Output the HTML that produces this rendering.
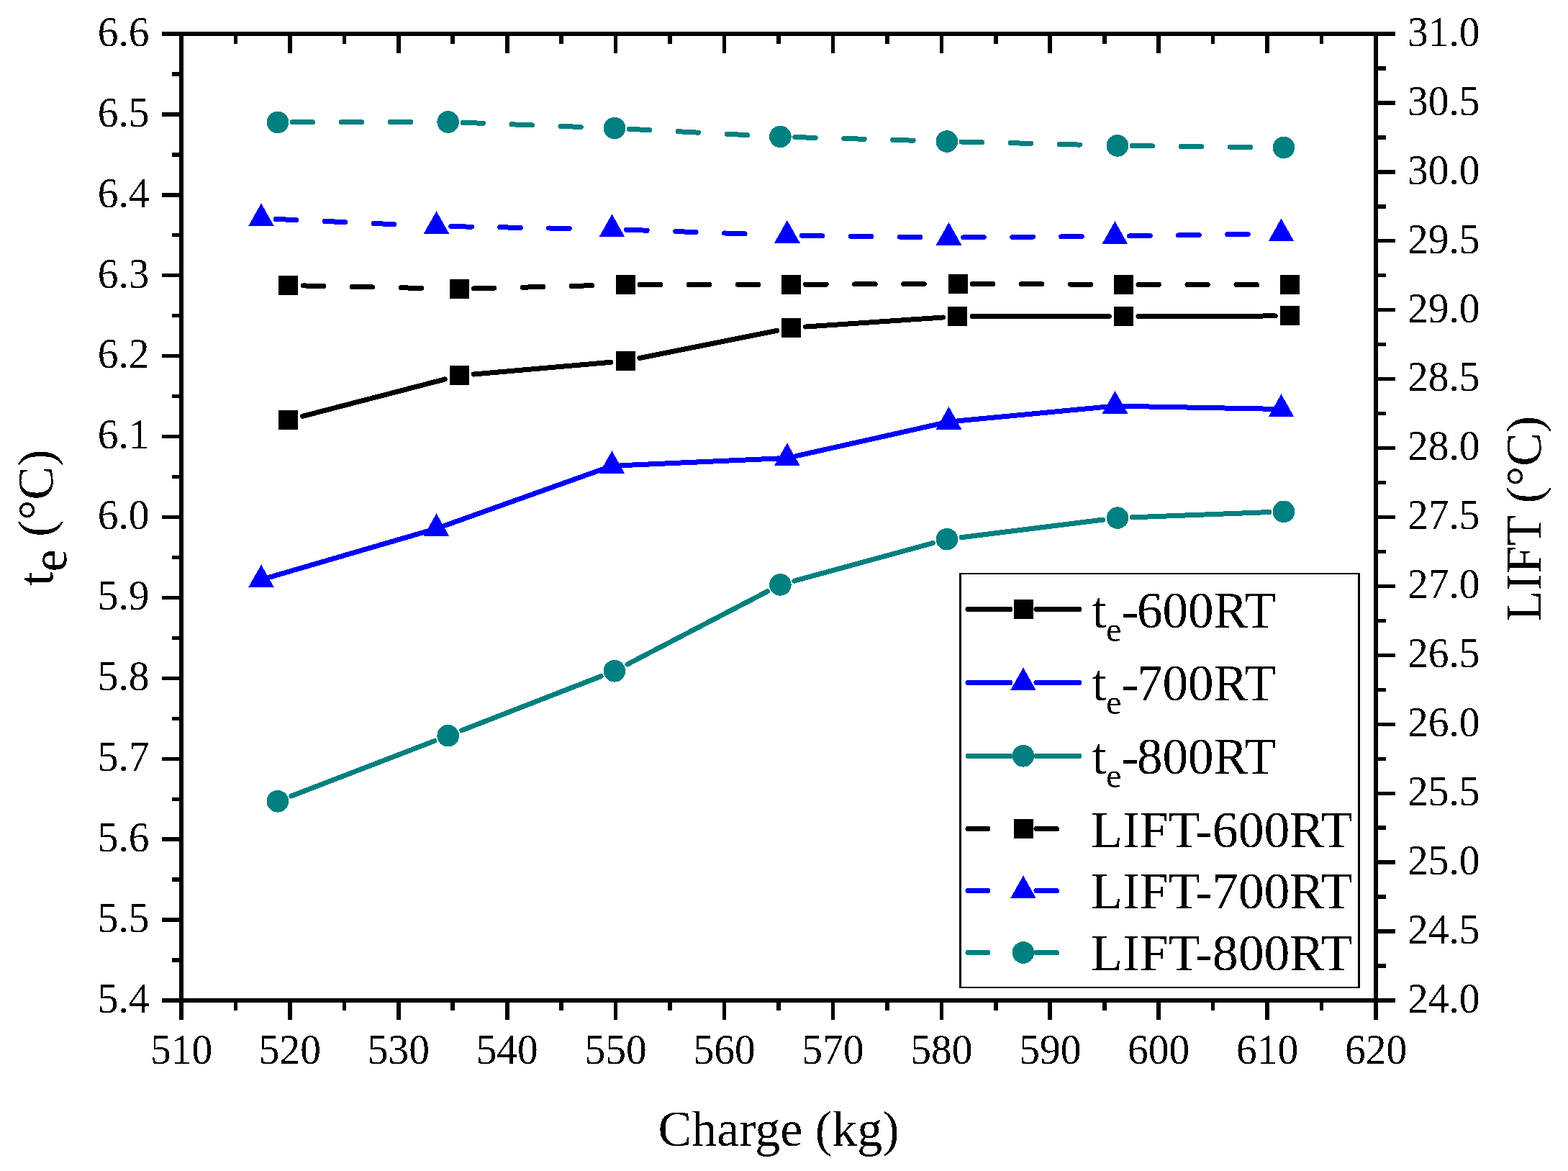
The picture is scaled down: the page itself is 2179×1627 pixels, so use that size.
<!DOCTYPE html>
<html><head><meta charset="utf-8"><title>Charge vs te and LIFT</title>
<style>html,body{margin:0;padding:0;background:#fff;overflow:hidden}svg{display:block}</style></head>
<body><svg width="2179" height="1627" viewBox="0 0 2179 1627">
<defs><filter id="bin" x="0" y="0" width="2179" height="1627" filterUnits="userSpaceOnUse" color-interpolation-filters="sRGB"><feComponentTransfer><feFuncA type="discrete" tableValues="0 1"/></feComponentTransfer></filter></defs>
<rect width="2179" height="1627" fill="#fff"/>
<g filter="url(#bin)">
<rect x="249.00" y="44.00" width="6.00" height="1349.00" fill="#000000"/>
<rect x="1909.00" y="44.00" width="6.00" height="1349.00" fill="#000000"/>
<rect x="249.00" y="44.00" width="1666.00" height="6.00" fill="#000000"/>
<rect x="249.00" y="1387.00" width="1666.00" height="6.00" fill="#000000"/>
<rect x="225.00" y="1387.30" width="24.00" height="5.40" fill="#000000"/>
<rect x="225.00" y="1275.38" width="24.00" height="5.40" fill="#000000"/>
<rect x="225.00" y="1163.47" width="24.00" height="5.40" fill="#000000"/>
<rect x="225.00" y="1051.55" width="24.00" height="5.40" fill="#000000"/>
<rect x="225.00" y="939.63" width="24.00" height="5.40" fill="#000000"/>
<rect x="225.00" y="827.72" width="24.00" height="5.40" fill="#000000"/>
<rect x="225.00" y="715.80" width="24.00" height="5.40" fill="#000000"/>
<rect x="225.00" y="603.88" width="24.00" height="5.40" fill="#000000"/>
<rect x="225.00" y="491.97" width="24.00" height="5.40" fill="#000000"/>
<rect x="225.00" y="380.05" width="24.00" height="5.40" fill="#000000"/>
<rect x="225.00" y="268.13" width="24.00" height="5.40" fill="#000000"/>
<rect x="225.00" y="156.22" width="24.00" height="5.40" fill="#000000"/>
<rect x="225.00" y="44.30" width="24.00" height="5.40" fill="#000000"/>
<rect x="239.00" y="1331.34" width="10.00" height="5.40" fill="#000000"/>
<rect x="239.00" y="1219.43" width="10.00" height="5.40" fill="#000000"/>
<rect x="239.00" y="1107.51" width="10.00" height="5.40" fill="#000000"/>
<rect x="239.00" y="995.59" width="10.00" height="5.40" fill="#000000"/>
<rect x="239.00" y="883.67" width="10.00" height="5.40" fill="#000000"/>
<rect x="239.00" y="771.76" width="10.00" height="5.40" fill="#000000"/>
<rect x="239.00" y="659.84" width="10.00" height="5.40" fill="#000000"/>
<rect x="239.00" y="547.92" width="10.00" height="5.40" fill="#000000"/>
<rect x="239.00" y="436.01" width="10.00" height="5.40" fill="#000000"/>
<rect x="239.00" y="324.09" width="10.00" height="5.40" fill="#000000"/>
<rect x="239.00" y="212.18" width="10.00" height="5.40" fill="#000000"/>
<rect x="239.00" y="100.26" width="10.00" height="5.40" fill="#000000"/>
<rect x="1915.00" y="1387.30" width="24.00" height="5.40" fill="#000000"/>
<rect x="1915.00" y="1291.37" width="24.00" height="5.40" fill="#000000"/>
<rect x="1915.00" y="1195.44" width="24.00" height="5.40" fill="#000000"/>
<rect x="1915.00" y="1099.51" width="24.00" height="5.40" fill="#000000"/>
<rect x="1915.00" y="1003.59" width="24.00" height="5.40" fill="#000000"/>
<rect x="1915.00" y="907.66" width="24.00" height="5.40" fill="#000000"/>
<rect x="1915.00" y="811.73" width="24.00" height="5.40" fill="#000000"/>
<rect x="1915.00" y="715.80" width="24.00" height="5.40" fill="#000000"/>
<rect x="1915.00" y="619.87" width="24.00" height="5.40" fill="#000000"/>
<rect x="1915.00" y="523.94" width="24.00" height="5.40" fill="#000000"/>
<rect x="1915.00" y="428.01" width="24.00" height="5.40" fill="#000000"/>
<rect x="1915.00" y="332.09" width="24.00" height="5.40" fill="#000000"/>
<rect x="1915.00" y="236.16" width="24.00" height="5.40" fill="#000000"/>
<rect x="1915.00" y="140.23" width="24.00" height="5.40" fill="#000000"/>
<rect x="1915.00" y="44.30" width="24.00" height="5.40" fill="#000000"/>
<rect x="1915.00" y="1339.34" width="11.00" height="5.40" fill="#000000"/>
<rect x="1915.00" y="1243.41" width="11.00" height="5.40" fill="#000000"/>
<rect x="1915.00" y="1147.48" width="11.00" height="5.40" fill="#000000"/>
<rect x="1915.00" y="1051.55" width="11.00" height="5.40" fill="#000000"/>
<rect x="1915.00" y="955.62" width="11.00" height="5.40" fill="#000000"/>
<rect x="1915.00" y="859.69" width="11.00" height="5.40" fill="#000000"/>
<rect x="1915.00" y="763.76" width="11.00" height="5.40" fill="#000000"/>
<rect x="1915.00" y="667.84" width="11.00" height="5.40" fill="#000000"/>
<rect x="1915.00" y="571.91" width="11.00" height="5.40" fill="#000000"/>
<rect x="1915.00" y="475.98" width="11.00" height="5.40" fill="#000000"/>
<rect x="1915.00" y="380.05" width="11.00" height="5.40" fill="#000000"/>
<rect x="1915.00" y="284.12" width="11.00" height="5.40" fill="#000000"/>
<rect x="1915.00" y="188.19" width="11.00" height="5.40" fill="#000000"/>
<rect x="1915.00" y="92.26" width="11.00" height="5.40" fill="#000000"/>
<rect x="249.20" y="1393.00" width="5.60" height="24.00" fill="#000000"/>
<rect x="249.20" y="50.00" width="5.60" height="24.00" fill="#000000"/>
<rect x="400.11" y="1393.00" width="5.60" height="24.00" fill="#000000"/>
<rect x="400.11" y="50.00" width="5.60" height="24.00" fill="#000000"/>
<rect x="551.02" y="1393.00" width="5.60" height="24.00" fill="#000000"/>
<rect x="551.02" y="50.00" width="5.60" height="24.00" fill="#000000"/>
<rect x="701.93" y="1393.00" width="5.60" height="24.00" fill="#000000"/>
<rect x="701.93" y="50.00" width="5.60" height="24.00" fill="#000000"/>
<rect x="852.84" y="1393.00" width="5.60" height="24.00" fill="#000000"/>
<rect x="852.84" y="50.00" width="5.60" height="24.00" fill="#000000"/>
<rect x="1003.75" y="1393.00" width="5.60" height="24.00" fill="#000000"/>
<rect x="1003.75" y="50.00" width="5.60" height="24.00" fill="#000000"/>
<rect x="1154.65" y="1393.00" width="5.60" height="24.00" fill="#000000"/>
<rect x="1154.65" y="50.00" width="5.60" height="24.00" fill="#000000"/>
<rect x="1305.56" y="1393.00" width="5.60" height="24.00" fill="#000000"/>
<rect x="1305.56" y="50.00" width="5.60" height="24.00" fill="#000000"/>
<rect x="1456.47" y="1393.00" width="5.60" height="24.00" fill="#000000"/>
<rect x="1456.47" y="50.00" width="5.60" height="24.00" fill="#000000"/>
<rect x="1607.38" y="1393.00" width="5.60" height="24.00" fill="#000000"/>
<rect x="1607.38" y="50.00" width="5.60" height="24.00" fill="#000000"/>
<rect x="1758.29" y="1393.00" width="5.60" height="24.00" fill="#000000"/>
<rect x="1758.29" y="50.00" width="5.60" height="24.00" fill="#000000"/>
<rect x="1909.20" y="1393.00" width="5.60" height="24.00" fill="#000000"/>
<rect x="1909.20" y="50.00" width="5.60" height="24.00" fill="#000000"/>
<rect x="324.65" y="1393.00" width="5.60" height="11.00" fill="#000000"/>
<rect x="324.65" y="50.00" width="5.60" height="11.00" fill="#000000"/>
<rect x="475.56" y="1393.00" width="5.60" height="11.00" fill="#000000"/>
<rect x="475.56" y="50.00" width="5.60" height="11.00" fill="#000000"/>
<rect x="626.47" y="1393.00" width="5.60" height="11.00" fill="#000000"/>
<rect x="626.47" y="50.00" width="5.60" height="11.00" fill="#000000"/>
<rect x="777.38" y="1393.00" width="5.60" height="11.00" fill="#000000"/>
<rect x="777.38" y="50.00" width="5.60" height="11.00" fill="#000000"/>
<rect x="928.29" y="1393.00" width="5.60" height="11.00" fill="#000000"/>
<rect x="928.29" y="50.00" width="5.60" height="11.00" fill="#000000"/>
<rect x="1079.20" y="1393.00" width="5.60" height="11.00" fill="#000000"/>
<rect x="1079.20" y="50.00" width="5.60" height="11.00" fill="#000000"/>
<rect x="1230.11" y="1393.00" width="5.60" height="11.00" fill="#000000"/>
<rect x="1230.11" y="50.00" width="5.60" height="11.00" fill="#000000"/>
<rect x="1381.02" y="1393.00" width="5.60" height="11.00" fill="#000000"/>
<rect x="1381.02" y="50.00" width="5.60" height="11.00" fill="#000000"/>
<rect x="1531.93" y="1393.00" width="5.60" height="11.00" fill="#000000"/>
<rect x="1531.93" y="50.00" width="5.60" height="11.00" fill="#000000"/>
<rect x="1682.84" y="1393.00" width="5.60" height="11.00" fill="#000000"/>
<rect x="1682.84" y="50.00" width="5.60" height="11.00" fill="#000000"/>
<rect x="1833.75" y="1393.00" width="5.60" height="11.00" fill="#000000"/>
<rect x="1833.75" y="50.00" width="5.60" height="11.00" fill="#000000"/>
<g font-family="'Liberation Serif','Times New Roman',serif" font-size="57.5" fill="#000">
<text transform="translate(207.5,1406.80) scale(1,1.034)" text-anchor="end">5.4</text>
<text transform="translate(207.5,1294.88) scale(1,1.034)" text-anchor="end">5.5</text>
<text transform="translate(207.5,1182.97) scale(1,1.034)" text-anchor="end">5.6</text>
<text transform="translate(207.5,1071.05) scale(1,1.034)" text-anchor="end">5.7</text>
<text transform="translate(207.5,959.13) scale(1,1.034)" text-anchor="end">5.8</text>
<text transform="translate(207.5,847.22) scale(1,1.034)" text-anchor="end">5.9</text>
<text transform="translate(207.5,735.30) scale(1,1.034)" text-anchor="end">6.0</text>
<text transform="translate(207.5,623.38) scale(1,1.034)" text-anchor="end">6.1</text>
<text transform="translate(207.5,511.47) scale(1,1.034)" text-anchor="end">6.2</text>
<text transform="translate(207.5,399.55) scale(1,1.034)" text-anchor="end">6.3</text>
<text transform="translate(207.5,287.63) scale(1,1.034)" text-anchor="end">6.4</text>
<text transform="translate(207.5,175.72) scale(1,1.034)" text-anchor="end">6.5</text>
<text transform="translate(207.5,63.80) scale(1,1.034)" text-anchor="end">6.6</text>
<text transform="translate(1956,1406.80) scale(1,1.034)">24.0</text>
<text transform="translate(1956,1310.87) scale(1,1.034)">24.5</text>
<text transform="translate(1956,1214.94) scale(1,1.034)">25.0</text>
<text transform="translate(1956,1119.01) scale(1,1.034)">25.5</text>
<text transform="translate(1956,1023.09) scale(1,1.034)">26.0</text>
<text transform="translate(1956,927.16) scale(1,1.034)">26.5</text>
<text transform="translate(1956,831.23) scale(1,1.034)">27.0</text>
<text transform="translate(1956,735.30) scale(1,1.034)">27.5</text>
<text transform="translate(1956,639.37) scale(1,1.034)">28.0</text>
<text transform="translate(1956,543.44) scale(1,1.034)">28.5</text>
<text transform="translate(1956,447.51) scale(1,1.034)">29.0</text>
<text transform="translate(1956,351.59) scale(1,1.034)">29.5</text>
<text transform="translate(1956,255.66) scale(1,1.034)">30.0</text>
<text transform="translate(1956,159.73) scale(1,1.034)">30.5</text>
<text transform="translate(1956,63.80) scale(1,1.034)">31.0</text>
<text transform="translate(252.00,1477.8) scale(1,1.034)" text-anchor="middle">510</text>
<text transform="translate(402.91,1477.8) scale(1,1.034)" text-anchor="middle">520</text>
<text transform="translate(553.82,1477.8) scale(1,1.034)" text-anchor="middle">530</text>
<text transform="translate(704.73,1477.8) scale(1,1.034)" text-anchor="middle">540</text>
<text transform="translate(855.64,1477.8) scale(1,1.034)" text-anchor="middle">550</text>
<text transform="translate(1006.55,1477.8) scale(1,1.034)" text-anchor="middle">560</text>
<text transform="translate(1157.45,1477.8) scale(1,1.034)" text-anchor="middle">570</text>
<text transform="translate(1308.36,1477.8) scale(1,1.034)" text-anchor="middle">580</text>
<text transform="translate(1459.27,1477.8) scale(1,1.034)" text-anchor="middle">590</text>
<text transform="translate(1610.18,1477.8) scale(1,1.034)" text-anchor="middle">600</text>
<text transform="translate(1761.09,1477.8) scale(1,1.034)" text-anchor="middle">610</text>
<text transform="translate(1912.00,1477.8) scale(1,1.034)" text-anchor="middle">620</text>
</g>
<text x="1082" y="1592.4" text-anchor="middle" font-family="'Liberation Serif','Times New Roman',serif" font-size="70">Charge (kg)</text>
<text transform="translate(2141.3,720.5) rotate(-90)" x="0" y="0" text-anchor="middle" font-family="'Liberation Serif','Times New Roman',serif" font-size="70">LIFT (°C)</text>
<text transform="translate(73.3,813.8) rotate(-90)" x="0" y="0" font-family="'Liberation Serif','Times New Roman',serif" font-size="70">t<tspan dy="19">e</tspan><tspan dy="-19"> (°C)</tspan></text>
<g shape-rendering="crispEdges">
<line x1="420.55" y1="578.30" x2="618.35" y2="526.90" stroke="#000000" stroke-width="7.0" stroke-linecap="round"/>
<line x1="658.22" y1="520.02" x2="848.78" y2="503.28" stroke="#000000" stroke-width="7.0" stroke-linecap="round"/>
<line x1="888.91" y1="497.52" x2="1079.59" y2="459.38" stroke="#000000" stroke-width="7.0" stroke-linecap="round"/>
<line x1="1119.75" y1="454.02" x2="1310.65" y2="440.98" stroke="#000000" stroke-width="7.0" stroke-linecap="round"/>
<line x1="1351.20" y1="439.60" x2="1541.30" y2="439.60" stroke="#000000" stroke-width="7.0" stroke-linecap="round"/>
<line x1="1581.90" y1="439.54" x2="1772.10" y2="438.96" stroke="#000000" stroke-width="7.0" stroke-linecap="round"/>
<line x1="421.20" y1="396.93" x2="617.70" y2="401.07" stroke="#000000" stroke-width="7.0" stroke-linecap="round" stroke-dasharray="28.5 39.5"/>
<line x1="658.29" y1="400.97" x2="848.71" y2="396.03" stroke="#000000" stroke-width="7.0" stroke-linecap="round" stroke-dasharray="28.5 39.5"/>
<line x1="889.30" y1="395.48" x2="1079.10" y2="395.32" stroke="#000000" stroke-width="7.0" stroke-linecap="round" stroke-dasharray="28.5 39.5"/>
<line x1="1119.70" y1="395.22" x2="1310.70" y2="394.48" stroke="#000000" stroke-width="7.0" stroke-linecap="round" stroke-dasharray="28.5 39.5"/>
<line x1="1351.30" y1="394.48" x2="1541.30" y2="395.22" stroke="#000000" stroke-width="7.0" stroke-linecap="round" stroke-dasharray="28.5 39.5"/>
<line x1="1581.90" y1="395.34" x2="1772.10" y2="395.76" stroke="#000000" stroke-width="7.0" stroke-linecap="round" stroke-dasharray="28.5 39.5"/>
<line x1="374.52" y1="802.04" x2="594.98" y2="737.76" stroke="#0000ff" stroke-width="7.0" stroke-linecap="round"/>
<line x1="617.80" y1="730.36" x2="839.10" y2="651.34" stroke="#0000ff" stroke-width="7.0" stroke-linecap="round"/>
<line x1="862.39" y1="646.76" x2="1081.91" y2="636.94" stroke="#0000ff" stroke-width="7.0" stroke-linecap="round"/>
<line x1="1105.61" y1="633.77" x2="1306.79" y2="588.63" stroke="#0000ff" stroke-width="7.0" stroke-linecap="round"/>
<line x1="1330.45" y1="584.87" x2="1537.55" y2="565.23" stroke="#0000ff" stroke-width="7.0" stroke-linecap="round"/>
<line x1="1561.50" y1="564.33" x2="1768.50" y2="568.27" stroke="#0000ff" stroke-width="7.0" stroke-linecap="round"/>
<line x1="383.28" y1="304.40" x2="586.22" y2="313.40" stroke="#0000ff" stroke-width="7.0" stroke-linecap="round" stroke-dasharray="28.5 39.5"/>
<line x1="626.80" y1="314.65" x2="830.10" y2="318.15" stroke="#0000ff" stroke-width="7.0" stroke-linecap="round" stroke-dasharray="28.5 39.5"/>
<line x1="870.69" y1="319.21" x2="1073.61" y2="326.29" stroke="#0000ff" stroke-width="7.0" stroke-linecap="round" stroke-dasharray="28.5 39.5"/>
<line x1="1114.20" y1="327.27" x2="1298.20" y2="329.73" stroke="#0000ff" stroke-width="7.0" stroke-linecap="round" stroke-dasharray="28.5 39.5"/>
<line x1="1338.80" y1="329.85" x2="1529.10" y2="328.45" stroke="#0000ff" stroke-width="7.0" stroke-linecap="round" stroke-dasharray="28.5 39.5"/>
<line x1="1569.70" y1="327.97" x2="1760.10" y2="324.93" stroke="#0000ff" stroke-width="7.0" stroke-linecap="round" stroke-dasharray="28.5 39.5"/>
<line x1="404.85" y1="1106.01" x2="603.75" y2="1029.49" stroke="#008080" stroke-width="7.0" stroke-linecap="round"/>
<line x1="641.62" y1="1014.85" x2="835.08" y2="939.65" stroke="#008080" stroke-width="7.0" stroke-linecap="round"/>
<line x1="872.01" y1="922.93" x2="1066.39" y2="821.77" stroke="#008080" stroke-width="7.0" stroke-linecap="round"/>
<line x1="1103.98" y1="807.05" x2="1296.32" y2="754.55" stroke="#008080" stroke-width="7.0" stroke-linecap="round"/>
<line x1="1336.04" y1="746.69" x2="1532.86" y2="722.11" stroke="#008080" stroke-width="7.0" stroke-linecap="round"/>
<line x1="1573.29" y1="718.83" x2="1763.71" y2="711.57" stroke="#008080" stroke-width="7.0" stroke-linecap="round"/>
<line x1="406.20" y1="169.87" x2="602.40" y2="169.53" stroke="#008080" stroke-width="7.0" stroke-linecap="round" stroke-dasharray="28.5 39.5"/>
<line x1="642.99" y1="170.26" x2="833.71" y2="177.44" stroke="#008080" stroke-width="7.0" stroke-linecap="round" stroke-dasharray="28.5 39.5"/>
<line x1="874.27" y1="179.24" x2="1064.13" y2="188.96" stroke="#008080" stroke-width="7.0" stroke-linecap="round" stroke-dasharray="28.5 39.5"/>
<line x1="1104.69" y1="190.57" x2="1295.61" y2="195.93" stroke="#008080" stroke-width="7.0" stroke-linecap="round" stroke-dasharray="28.5 39.5"/>
<line x1="1336.19" y1="197.01" x2="1532.61" y2="201.89" stroke="#008080" stroke-width="7.0" stroke-linecap="round" stroke-dasharray="28.5 39.5"/>
<line x1="1573.20" y1="202.62" x2="1763.60" y2="204.68" stroke="#008080" stroke-width="7.0" stroke-linecap="round" stroke-dasharray="28.5 39.5"/>
<rect x="387.40" y="569.90" width="27.00" height="27.00" fill="#000000"/>
<rect x="624.50" y="508.30" width="27.00" height="27.00" fill="#000000"/>
<rect x="855.50" y="488.00" width="27.00" height="27.00" fill="#000000"/>
<rect x="1086.00" y="441.90" width="27.00" height="27.00" fill="#000000"/>
<rect x="1317.40" y="426.10" width="27.00" height="27.00" fill="#000000"/>
<rect x="1548.10" y="426.10" width="27.00" height="27.00" fill="#000000"/>
<rect x="1778.90" y="425.40" width="27.00" height="27.00" fill="#000000"/>
<rect x="387.40" y="383.00" width="27.00" height="27.00" fill="#000000"/>
<rect x="624.50" y="388.00" width="27.00" height="27.00" fill="#000000"/>
<rect x="855.50" y="382.00" width="27.00" height="27.00" fill="#000000"/>
<rect x="1085.90" y="381.80" width="27.00" height="27.00" fill="#000000"/>
<rect x="1317.50" y="380.90" width="27.00" height="27.00" fill="#000000"/>
<rect x="1548.10" y="381.80" width="27.00" height="27.00" fill="#000000"/>
<rect x="1778.90" y="382.30" width="27.00" height="27.00" fill="#000000"/>
<polygon points="363.00,784.33 380.80,815.93 345.20,815.93" fill="#0000ff"/>
<polygon points="606.50,713.33 624.30,744.93 588.70,744.93" fill="#0000ff"/>
<polygon points="850.40,626.23 868.20,657.83 832.60,657.83" fill="#0000ff"/>
<polygon points="1093.90,615.33 1111.70,646.93 1076.10,646.93" fill="#0000ff"/>
<polygon points="1318.50,564.93 1336.30,596.53 1300.70,596.53" fill="#0000ff"/>
<polygon points="1549.50,543.03 1567.30,574.63 1531.70,574.63" fill="#0000ff"/>
<polygon points="1780.50,547.43 1798.30,579.03 1762.70,579.03" fill="#0000ff"/>
<polygon points="363.00,282.43 380.80,314.03 345.20,314.03" fill="#0000ff"/>
<polygon points="606.50,293.23 624.30,324.83 588.70,324.83" fill="#0000ff"/>
<polygon points="850.40,297.43 868.20,329.03 832.60,329.03" fill="#0000ff"/>
<polygon points="1093.90,305.93 1111.70,337.53 1076.10,337.53" fill="#0000ff"/>
<polygon points="1318.50,308.93 1336.30,340.53 1300.70,340.53" fill="#0000ff"/>
<polygon points="1549.40,307.23 1567.20,338.83 1531.60,338.83" fill="#0000ff"/>
<polygon points="1780.40,303.53 1798.20,335.13 1762.60,335.13" fill="#0000ff"/>
<circle cx="385.90" cy="1113.30" r="15.30" fill="#008080"/>
<circle cx="622.70" cy="1022.20" r="15.30" fill="#008080"/>
<circle cx="854.00" cy="932.30" r="15.30" fill="#008080"/>
<circle cx="1084.40" cy="812.40" r="15.30" fill="#008080"/>
<circle cx="1315.90" cy="749.20" r="15.30" fill="#008080"/>
<circle cx="1553.00" cy="719.60" r="15.30" fill="#008080"/>
<circle cx="1784.00" cy="710.80" r="15.30" fill="#008080"/>
<circle cx="385.90" cy="169.90" r="15.30" fill="#008080"/>
<circle cx="622.70" cy="169.50" r="15.30" fill="#008080"/>
<circle cx="854.00" cy="178.20" r="15.30" fill="#008080"/>
<circle cx="1084.40" cy="190.00" r="15.30" fill="#008080"/>
<circle cx="1315.90" cy="196.50" r="15.30" fill="#008080"/>
<circle cx="1552.90" cy="202.40" r="15.30" fill="#008080"/>
<circle cx="1783.90" cy="204.90" r="15.30" fill="#008080"/>
</g>
<rect x="1333.00" y="796.00" width="3.00" height="577.00" fill="#000000"/>
<rect x="1887.00" y="796.00" width="3.00" height="577.00" fill="#000000"/>
<rect x="1333.00" y="796.00" width="557.00" height="2.00" fill="#000000"/>
<rect x="1333.00" y="1371.00" width="557.00" height="2.00" fill="#000000"/>
<g shape-rendering="crispEdges">
<line x1="1345" y1="846.5" x2="1404" y2="846.5" stroke="#000000" stroke-width="7.0" stroke-linecap="round"/>
<line x1="1440" y1="846.5" x2="1500" y2="846.5" stroke="#000000" stroke-width="7.0" stroke-linecap="round"/>
<rect x="1408.50" y="833.00" width="27.00" height="27.00" fill="#000000"/>
<text x="1517.4" y="871.6" font-family="'Liberation Serif','Times New Roman',serif" font-size="71.7">t<tspan font-size="48" dy="19">e</tspan><tspan dy="-19" dx="-0.5">-</tspan><tspan dx="-2" font-size="71">600RT</tspan></text>
<line x1="1345" y1="948.5" x2="1404" y2="948.5" stroke="#0000ff" stroke-width="7.0" stroke-linecap="round"/>
<line x1="1440" y1="948.5" x2="1500" y2="948.5" stroke="#0000ff" stroke-width="7.0" stroke-linecap="round"/>
<polygon points="1422.00,927.43 1439.80,959.03 1404.20,959.03" fill="#0000ff"/>
<text x="1517.4" y="973.0" font-family="'Liberation Serif','Times New Roman',serif" font-size="71.7">t<tspan font-size="48" dy="19">e</tspan><tspan dy="-19" dx="-0.5">-</tspan><tspan dx="-2" font-size="71">700RT</tspan></text>
<line x1="1345" y1="1050.3" x2="1404" y2="1050.3" stroke="#008080" stroke-width="7.0" stroke-linecap="round"/>
<line x1="1440" y1="1050.3" x2="1500" y2="1050.3" stroke="#008080" stroke-width="7.0" stroke-linecap="round"/>
<circle cx="1422.00" cy="1050.30" r="15.30" fill="#008080"/>
<text x="1517.4" y="1075.0" font-family="'Liberation Serif','Times New Roman',serif" font-size="71.7">t<tspan font-size="48" dy="19">e</tspan><tspan dy="-19" dx="-0.5">-</tspan><tspan dx="-2" font-size="71">800RT</tspan></text>
<line x1="1345" y1="1151.5" x2="1373" y2="1151.5" stroke="#000000" stroke-width="7.0" stroke-linecap="round"/>
<line x1="1440" y1="1151.5" x2="1468.5" y2="1151.5" stroke="#000000" stroke-width="7.0" stroke-linecap="round"/>
<rect x="1408.50" y="1138.00" width="27.00" height="27.00" fill="#000000"/>
<text x="1516.2" y="1176.6" font-family="'Liberation Serif','Times New Roman',serif" font-size="71.7">LIFT-600RT</text>
<line x1="1345" y1="1237.5" x2="1373" y2="1237.5" stroke="#0000ff" stroke-width="7.0" stroke-linecap="round"/>
<line x1="1440" y1="1237.5" x2="1468.5" y2="1237.5" stroke="#0000ff" stroke-width="7.0" stroke-linecap="round"/>
<polygon points="1422.00,1216.43 1439.80,1248.03 1404.20,1248.03" fill="#0000ff"/>
<text x="1516.2" y="1262.4" font-family="'Liberation Serif','Times New Roman',serif" font-size="71.7">LIFT-700RT</text>
<line x1="1345" y1="1323.5" x2="1373" y2="1323.5" stroke="#008080" stroke-width="7.0" stroke-linecap="round"/>
<line x1="1440" y1="1323.5" x2="1468.5" y2="1323.5" stroke="#008080" stroke-width="7.0" stroke-linecap="round"/>
<circle cx="1422.00" cy="1323.50" r="15.30" fill="#008080"/>
<text x="1516.2" y="1347.8" font-family="'Liberation Serif','Times New Roman',serif" font-size="71.7">LIFT-800RT</text>
</g>
</g>
</svg></body></html>
